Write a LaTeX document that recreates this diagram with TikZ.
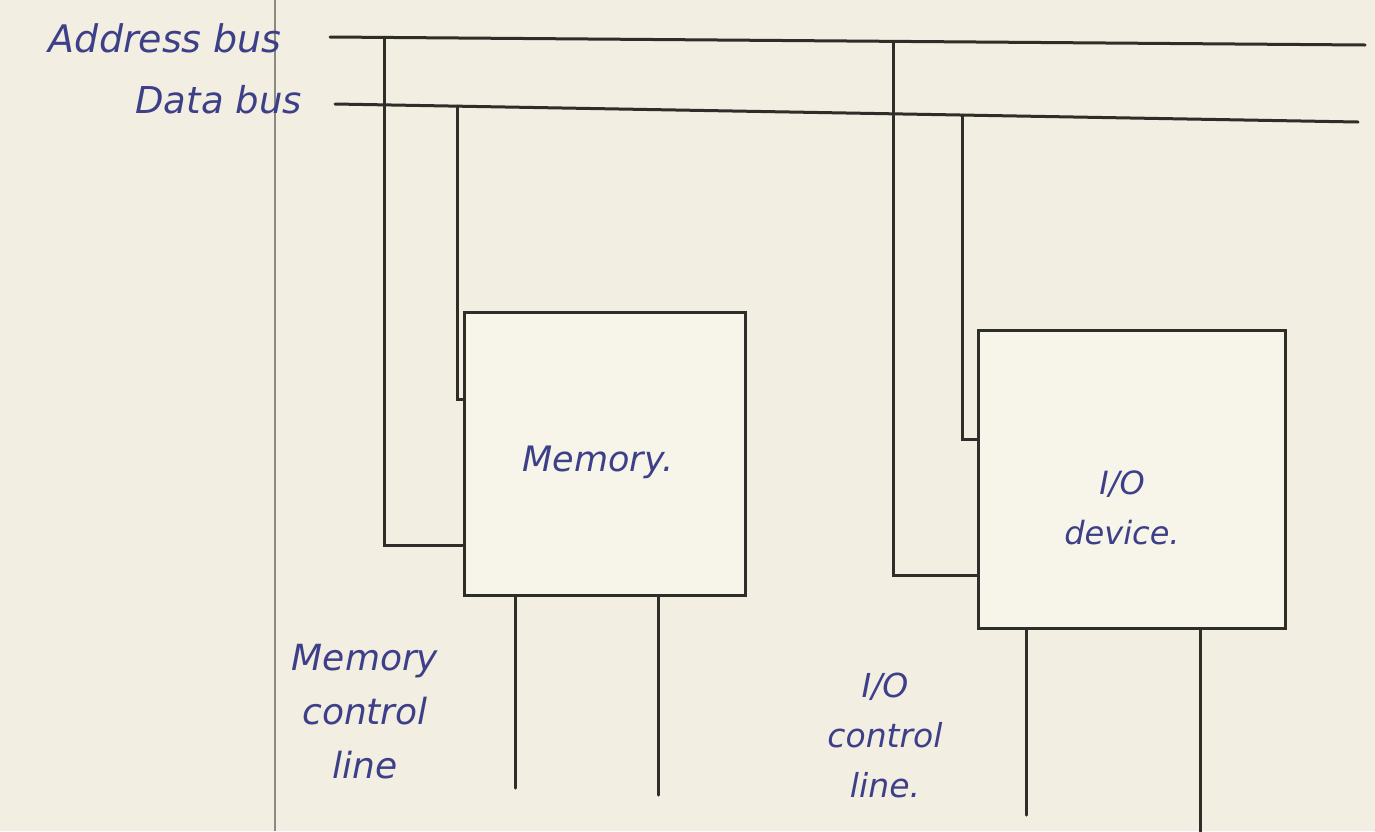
\documentclass[tikz,border=0pt]{standalone}
\usepackage{fontspec}
\setmainfont{DejaVu Sans}
\usetikzlibrary{calc}
\definecolor{paper}{HTML}{F2EEE1}
\definecolor{boxpaper}{HTML}{F7F5EA}
\definecolor{ink}{HTML}{3D4088}
\definecolor{pencil}{HTML}{2E2D28}
\definecolor{margin}{HTML}{8C8A80}
\tikzset{
  wire/.style={draw=pencil,line width=3pt,line cap=round},
  unitbox/.style={draw=pencil,fill=boxpaper,line width=3pt,rectangle,inner sep=0pt},
  hand/.style={text=ink,font=\itshape\fontsize{36}{50}\selectfont,align=center,inner sep=0pt},
}
\begin{document}
\begin{tikzpicture}[x=1pt,y=-1pt]
\fill[paper] (0,0) rectangle (1375,831);
\useasboundingbox (0,0) rectangle (1375,831);
% margin line
\coordinate (mtop) at (275,0);
\coordinate (mbot) at (275,831);
\draw[margin,line width=2pt] (mtop) -- (mbot);
% buses
\coordinate (A1) at (330,37);
\coordinate (A2) at (1365,45);
\coordinate (D1) at (335,104);
\coordinate (D2) at (1358,122);
\draw[wire] (A1) -- (A2);
\draw[wire] (D1) -- (D2);
\path (A1) -- (A2) coordinate[pos=0.053] (am) coordinate[pos=0.544] (ai);
\path (D1) -- (D2) coordinate[pos=0.120] (dm) coordinate[pos=0.613] (di);
% units
\node[unitbox,minimum width=281pt,minimum height=283pt] (mem) at (604.5,453.5) {};
\node[unitbox,minimum width=307pt,minimum height=298pt] (io) at (1131.5,479) {};
\node[hand,font=\itshape\fontsize{35}{50}\selectfont] (memt) at (598,462) {Memory.};
\node[hand,font=\itshape\fontsize{32}{50}\selectfont] (iot) at (1122,508) {I/O\\device.};
% bus connections
\draw[wire] (am) |- ($(mem.south west)!0.177!(mem.north west)$);
\draw[wire] (dm) |- ($(mem.south west)!0.69!(mem.north west)$);
\draw[wire] (ai) |- ($(io.south west)!0.178!(io.north west)$);
\draw[wire] (di) |- ($(io.south west)!0.63!(io.north west)$);
% control lines
\coordinate (mc1) at (515,788);
\coordinate (mc2) at (658,795);
\coordinate (ic1) at (1026,815);
\coordinate (ic2) at (1200,835);
\draw[wire] (mc1 |- mem.south) -- (mc1);
\draw[wire] (mc2 |- mem.south) -- (mc2);
\draw[wire] (ic1 |- io.south) -- (ic1);
\draw[wire] (ic2 |- io.south) -- (ic2);
% labels
\node[hand,anchor=east,font=\itshape\fontsize{38}{50}\selectfont] (abl) at (282,38) {Address bus};
\node[hand,anchor=east,font=\itshape\fontsize{37}{50}\selectfont] (dbl) at (302,100) {Data bus};
\node[hand,font=\itshape\fontsize{36}{54}\selectfont] (mcl) at (365,712) {Memory\\control\\line};
\node[hand,font=\itshape\fontsize{33}{50}\selectfont] (icl) at (885,735) {I/O\\control\\line.};
\end{tikzpicture}
\end{document}
